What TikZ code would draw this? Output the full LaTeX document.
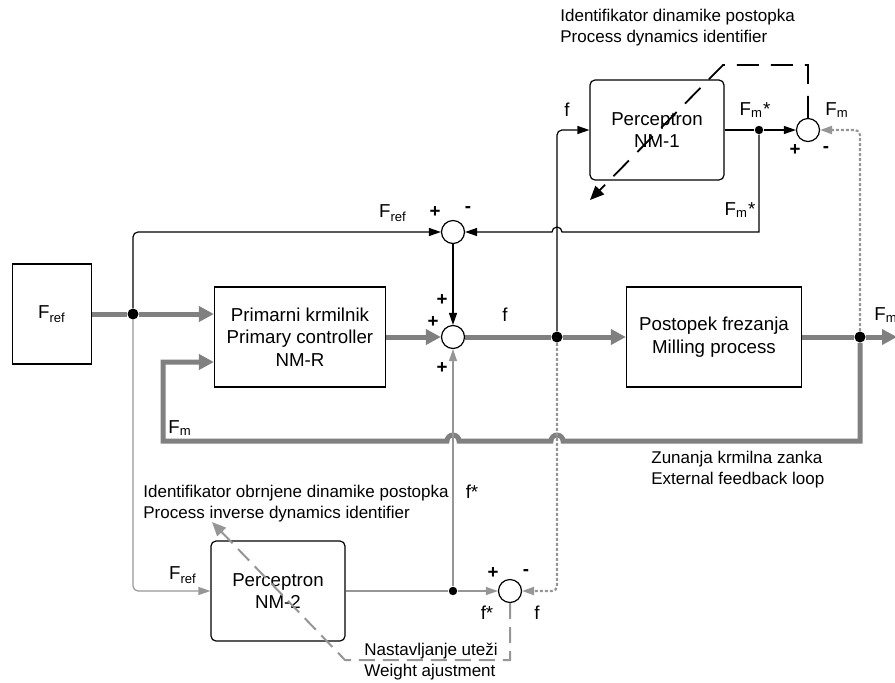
\documentclass[tikz,border=0pt]{standalone}
\usepackage{fontspec}
\setmainfont{Liberation Sans}
\usepackage{tikz}
\usetikzlibrary{positioning,arrows.meta}

\definecolor{busgray}{RGB}{128,128,128}
\definecolor{linegray}{RGB}{150,150,150}

\newcommand{\blocksize}{\fontsize{9.35}{11.3}\selectfont}
\newcommand{\notesize}{\fontsize{8.5}{10.5}\selectfont}
\newcommand{\Fref}{F\textsubscript{ref}}
\newcommand{\Fm}{F\textsubscript{m}}

\begin{document}
\begin{tikzpicture}
        [ x = .5pt, y = -.5pt
        , block/.style =
          { draw, line width=.6pt, minimum height=50pt, align=center, font=\blocksize }
        , perceptron/.style =
          { block, rounded corners=2.5pt, minimum width=67pt }
        , summer/.style =
          { draw, circle, line width=.6pt, minimum size=11.5pt, inner sep=0pt }
        , vertex/.style =
          { fill, circle, inner sep=0pt, minimum size=4.2pt }
        , bigvertex/.style =
          { vertex, minimum size=5.5pt }
        , sgn/.style =
          { font=\blocksize, inner sep=0pt }
        , note/.style =
          { font=\notesize, align=left, inner sep=0pt }
        , sig/.style =
          { line width=.6pt, -{Triangle[length=6pt, width=4pt]} }
        , bus/.style =
          { line width=2.5pt, busgray, -{Triangle[length=7.5pt, width=7.5pt]} }
        , aux/.style =
          { line width=.6pt, linegray, -{Triangle[length=6pt, width=4pt]} }
        , probe/.style =
          { line width=1.1pt, linegray, dash pattern=on 1.5pt off 1pt, -{Triangle[length=6pt, width=4pt]} }
        , adjust/.style =
          { line width=.9pt, dash pattern=on 11pt off 6pt, -{Triangle[length=7pt, width=6pt]} }
        ]
        \useasboundingbox (0,0) rectangle (895,682);

        % blocks
        \node [block, minimum width=39.5pt] (ref) at (52,314) {\Fref};
        \node [block, minimum width=85.5pt] (ctrl) at (300,337) {Primarni krmilnik\\Primary controller\\NM-R};
        \node [block, minimum width=87.5pt] (mill) at (714,337) {Postopek frezanja\\Milling process};
        \node [perceptron] (nm1) at (657,130) {Perceptron\\NM-1};
        \node [perceptron] (nm2) at (278,591) {Perceptron\\NM-2};

        % summing points
        \node [summer] (s1) at (453,232) {};
        \node [summer] (s2) at (453,337) {};
        \node [summer] (s3) at (808,130) {};
        \node [summer] (s4) at (510,591) {};

        % branch points
        \node [bigvertex] (j1) at (133,314) {};
        \node [bigvertex] (j2) at (557,337) {};
        \node [bigvertex] (j3) at (860,337) {};
        \node [vertex] (j4) at (759,130) {};
        \node [vertex] (j5) at (453,591) {};
        \coordinate (out) at (897,337);
        \coordinate (k1) at (723,65);
        \coordinate (w1) at (590,200);
        \coordinate (k2) at (345,660);
        \coordinate (w2) at (212,522);

        % main loop
        \draw [bus] (ref) -- (j1) -- (j1 -| ctrl.west);
        \draw [bus] (ctrl) -- (s2);
        \draw [bus] (s2) -- (j2) -- (mill);
        \draw [bus] (mill) -- (j3) -- (out);
        \draw [bus] (j3) -- (860,441) -- (563,441) arc [start angle=0, end angle=-180, radius=6]
                -- (459,441) arc [start angle=0, end angle=-180, radius=6]
                -- (163,441) -- (163,362) -- ([yshift=-12.5pt]ctrl.west);

        % process dynamics identifier
        \draw [sig, rounded corners=2.5pt] (j1) |- (s1);
        \draw [sig] (s1) -- (s2);
        \draw [sig, rounded corners=2.5pt] (j2) |- (nm1);
        \draw [sig] (nm1) -- (j4) -- (s3);
        \draw [sig] (j4) -- (j4 |- s1) -- (562,232) arc [start angle=0, end angle=-180, radius=5] -- (s1);
        \draw [adjust] (s3) |- (k1) -- (w1);
        \draw [probe, rounded corners=2.5pt] (j3) |- (s3);

        % inverse dynamics identifier
        \draw [aux, rounded corners=2.5pt] (j1) |- (nm2);
        \draw [aux] (nm2) -- (j5) -- (s4);
        \draw [aux] (j5) -- (s2);
        \draw [probe, rounded corners=2.5pt] (j2) |- (s4);
        \draw [adjust, linegray, line width=1pt, dash pattern=on 8pt off 4pt] (s4) |- (k2) -- (w2);

        % signal labels
        \node [sgn] (l1) at (393,213) {\Fref};
        \node [sgn] (p1) at (435,212) {\textbf{+}};
        \node [sgn] (m1) at (468,210) {\textbf{-}};
        \node [sgn] (p2) at (442,300) {\textbf{+}};
        \node [sgn] (p3) at (433,322) {\textbf{+}};
        \node [sgn] (p4) at (442,368) {\textbf{+}};
        \node [sgn] (l2) at (505,315) {f};
        \node [sgn] (l3) at (567,110) {f};
        \node [sgn] (l4) at (755,110) {\Fm*};
        \node [sgn] (l5) at (837,110) {\Fm};
        \node [sgn] (p5) at (795,150) {\textbf{+}};
        \node [sgn] (m2) at (826,150) {\textbf{-}};
        \node [sgn] (l6) at (740,210) {\Fm*};
        \node [sgn, anchor=west] (l7) at (874,315) {\Fm};
        \node [sgn] (l8) at (180,428) {\Fm};
        \node [sgn] (l9) at (472,492) {f*};
        \node [sgn] (l10) at (183,575) {\Fref};
        \node [sgn] (p6) at (493,573) {\textbf{+}};
        \node [sgn] (m3) at (526,573) {\textbf{-}};
        \node [sgn] (l11) at (487,613) {f*};
        \node [sgn] (l12) at (537,613) {f};

        % notes
        \node [note, anchor=west] (n1) at (560,28) {Identifikator dinamike postopka\\Process dynamics identifier};
        \node [note, anchor=west] (n2) at (143,504) {Identifikator obrnjene dinamike postopka\\Process inverse dynamics identifier};
        \node [note, anchor=west] (n3) at (364,662) {Nastavljanje uteži\\Weight ajustment};
        \node [note, anchor=west] (n4) at (651,470) {Zunanja krmilna zanka\\External feedback loop};
\end{tikzpicture}
\end{document}
